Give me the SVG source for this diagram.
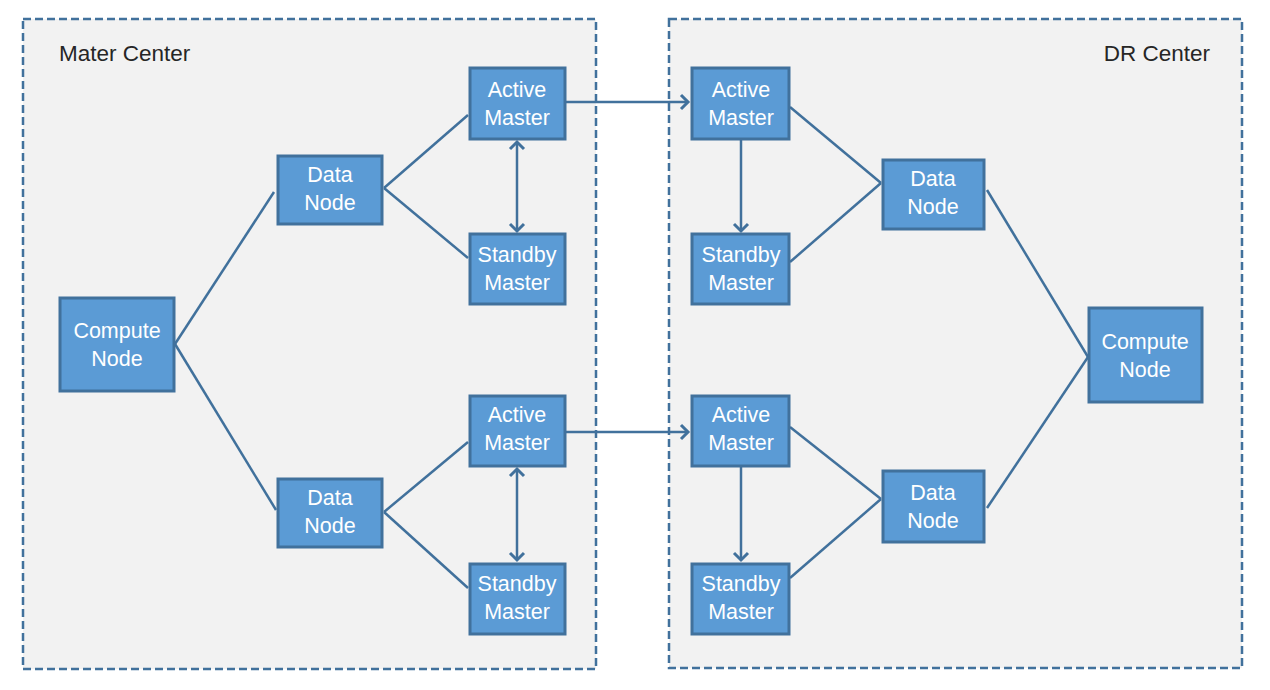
<svg xmlns="http://www.w3.org/2000/svg" width="1270" height="690" viewBox="0 0 1270 690">
  <style>
    .zone { fill: #f2f2f2; stroke: #41719c; stroke-width: 2.5; stroke-dasharray: 8 4; }
    .zone-title { font-family: "Liberation Sans", Arial, sans-serif; font-size: 22.5px; fill: #262626; }
    .box { fill: #5b9bd5; stroke: #41719c; stroke-width: 3; }
    .label { font-family: "Liberation Sans", Arial, sans-serif; font-size: 21.5px; fill: #ffffff; text-anchor: middle; }
    .link { fill: none; stroke: #41719c; stroke-width: 2.5; }
  </style>
  <defs>
    <marker id="chev" viewBox="-10 -10 20 20" markerWidth="20" markerHeight="20" refX="0" refY="0" markerUnits="userSpaceOnUse" orient="auto-start-reverse">
      <path d="M-7,-7 L0,0 L-7,7" fill="none" stroke="#41719c" stroke-width="3"/>
    </marker>
  </defs>

  <rect width="1270" height="690" fill="#ffffff"/>

  <!-- data centers -->
  <g id="master-center">
    <rect class="zone" x="23" y="19" width="573" height="650"/>
    <text class="zone-title" x="59" y="61">Mater Center</text>
  </g>
  <g id="dr-center">
    <rect class="zone" x="669" y="19" width="573" height="649"/>
    <text class="zone-title" x="1210" y="61" text-anchor="end">DR Center</text>
  </g>

  <!-- connectors -->
  <g id="connectors">
    <path class="link" d="M175,344 L274,192"/>
    <path class="link" d="M175,344 L276,510"/>
    <path class="link" d="M384,188 L468,115"/>
    <path class="link" d="M384,188 L468,258"/>
    <path class="link" d="M384,512 L468,442"/>
    <path class="link" d="M384,512 L468,588"/>
    <path class="link" d="M517,142 L517,231" marker-start="url(#chev)" marker-end="url(#chev)"/>
    <path class="link" d="M517,469 L517,560" marker-start="url(#chev)" marker-end="url(#chev)"/>
    <path class="link" d="M565,102 L688,102" marker-end="url(#chev)"/>
    <path class="link" d="M565,432 L688,432" marker-end="url(#chev)"/>
    <path class="link" d="M741,139 L741,231" marker-end="url(#chev)"/>
    <path class="link" d="M741,466 L741,560" marker-end="url(#chev)"/>
    <path class="link" d="M790,107 L881,183"/>
    <path class="link" d="M790,262 L881,183"/>
    <path class="link" d="M790,427 L881,499"/>
    <path class="link" d="M790,578 L881,499"/>
    <path class="link" d="M987,190 L1088,357"/>
    <path class="link" d="M987,508 L1088,357"/>
  </g>

  <!-- master center nodes -->
  <g id="m-compute">
    <rect class="box" x="60" y="298" width="114" height="93"/>
    <text class="label" x="117" y="338">Compute</text>
    <text class="label" x="117" y="366">Node</text>
  </g>
  <g id="m-data-1">
    <rect class="box" x="278" y="156" width="104" height="68"/>
    <text class="label" x="330" y="182">Data</text>
    <text class="label" x="330" y="210">Node</text>
  </g>
  <g id="m-data-2">
    <rect class="box" x="278" y="479" width="104" height="68"/>
    <text class="label" x="330" y="505">Data</text>
    <text class="label" x="330" y="533">Node</text>
  </g>
  <g id="m-active-1">
    <rect class="box" x="470" y="68" width="95" height="71"/>
    <text class="label" x="517" y="97">Active</text>
    <text class="label" x="517" y="125">Master</text>
  </g>
  <g id="m-standby-1">
    <rect class="box" x="470" y="234" width="95" height="70"/>
    <text class="label" x="517" y="262">Standby</text>
    <text class="label" x="517" y="290">Master</text>
  </g>
  <g id="m-active-2">
    <rect class="box" x="470" y="396" width="95" height="70"/>
    <text class="label" x="517" y="422">Active</text>
    <text class="label" x="517" y="450">Master</text>
  </g>
  <g id="m-standby-2">
    <rect class="box" x="470" y="564" width="95" height="70"/>
    <text class="label" x="517" y="591">Standby</text>
    <text class="label" x="517" y="619">Master</text>
  </g>

  <!-- DR center nodes -->
  <g id="dr-active-1">
    <rect class="box" x="692" y="68" width="97" height="71"/>
    <text class="label" x="741" y="97">Active</text>
    <text class="label" x="741" y="125">Master</text>
  </g>
  <g id="dr-standby-1">
    <rect class="box" x="692" y="234" width="97" height="70"/>
    <text class="label" x="741" y="262">Standby</text>
    <text class="label" x="741" y="290">Master</text>
  </g>
  <g id="dr-active-2">
    <rect class="box" x="692" y="396" width="97" height="70"/>
    <text class="label" x="741" y="422">Active</text>
    <text class="label" x="741" y="450">Master</text>
  </g>
  <g id="dr-standby-2">
    <rect class="box" x="692" y="564" width="97" height="70"/>
    <text class="label" x="741" y="591">Standby</text>
    <text class="label" x="741" y="619">Master</text>
  </g>
  <g id="dr-data-1">
    <rect class="box" x="883" y="160" width="101" height="69"/>
    <text class="label" x="933" y="186">Data</text>
    <text class="label" x="933" y="214">Node</text>
  </g>
  <g id="dr-data-2">
    <rect class="box" x="883" y="471" width="101" height="71"/>
    <text class="label" x="933" y="500">Data</text>
    <text class="label" x="933" y="528">Node</text>
  </g>
  <g id="dr-compute">
    <rect class="box" x="1089" y="308" width="113" height="94"/>
    <text class="label" x="1145" y="349">Compute</text>
    <text class="label" x="1145" y="377">Node</text>
  </g>
</svg>
